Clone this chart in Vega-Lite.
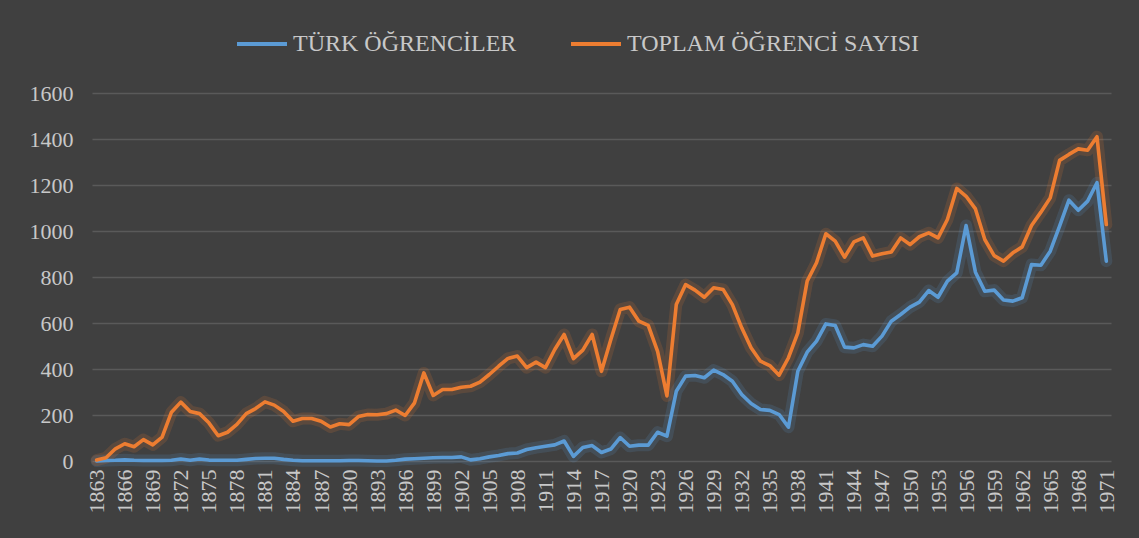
{
  "$schema": "https://vega.github.io/schema/vega-lite/v6.json",
  "autosize": {"type": "none"},
  "width": 1019,
  "height": 368,
  "padding": {"left": 92, "top": 93, "right": 28, "bottom": 77},
  "background": "#404040",
  "config": {
    "view": {"stroke": null},
    "font": "Liberation Serif",
    "axis": {"labelFont": "Liberation Serif", "labelColor": "#C8C8C8", "labelFontSize": 22, "ticks": false, "domain": false},
    "legend": {"labelFont": "Liberation Serif", "labelColor": "#C8C8C8", "labelFontSize": 24}
  },
  "data": {
    "values": [
      {"yil":1863,"turk":0,"toplam":4},{"yil":1864,"turk":2,"toplam":14},{"yil":1865,"turk":3,"toplam":53},{"yil":1866,"turk":5,"toplam":75},{"yil":1867,"turk":3,"toplam":62},{"yil":1868,"turk":2,"toplam":93},{"yil":1869,"turk":2,"toplam":70},{"yil":1870,"turk":2,"toplam":104},{"yil":1871,"turk":3,"toplam":212},{"yil":1872,"turk":9,"toplam":256},
      {"yil":1873,"turk":3,"toplam":215},{"yil":1874,"turk":9,"toplam":206},{"yil":1875,"turk":4,"toplam":166},{"yil":1876,"turk":3,"toplam":110},{"yil":1877,"turk":3,"toplam":125},{"yil":1878,"turk":3,"toplam":159},{"yil":1879,"turk":7,"toplam":206},{"yil":1880,"turk":11,"toplam":228},{"yil":1881,"turk":12,"toplam":257},{"yil":1882,"turk":12,"toplam":243},
      {"yil":1883,"turk":7,"toplam":215},{"yil":1884,"turk":3,"toplam":173},{"yil":1885,"turk":1,"toplam":185},{"yil":1886,"turk":1,"toplam":185},{"yil":1887,"turk":1,"toplam":173},{"yil":1888,"turk":1,"toplam":148},{"yil":1889,"turk":1,"toplam":162},{"yil":1890,"turk":2,"toplam":158},{"yil":1891,"turk":2,"toplam":193},{"yil":1892,"turk":1,"toplam":202},
      {"yil":1893,"turk":0,"toplam":201},{"yil":1894,"turk":0,"toplam":206},{"yil":1895,"turk":3,"toplam":221},{"yil":1896,"turk":8,"toplam":198},{"yil":1897,"turk":10,"toplam":253},{"yil":1898,"turk":12,"toplam":383},{"yil":1899,"turk":14,"toplam":285},{"yil":1900,"turk":15,"toplam":311},{"yil":1901,"turk":15,"toplam":311},{"yil":1902,"turk":18,"toplam":321},
      {"yil":1903,"turk":5,"toplam":325},{"yil":1904,"turk":10,"toplam":343},{"yil":1905,"turk":18,"toplam":376},{"yil":1906,"turk":24,"toplam":412},{"yil":1907,"turk":32,"toplam":446},{"yil":1908,"turk":35,"toplam":456},{"yil":1909,"turk":50,"toplam":406},{"yil":1910,"turk":58,"toplam":430},{"yil":1911,"turk":64,"toplam":406},{"yil":1912,"turk":70,"toplam":485},
      {"yil":1913,"turk":87,"toplam":550},{"yil":1914,"turk":20,"toplam":445},{"yil":1915,"turk":59,"toplam":482},{"yil":1916,"turk":67,"toplam":550},{"yil":1917,"turk":37,"toplam":390},{"yil":1918,"turk":52,"toplam":528},{"yil":1919,"turk":102,"toplam":659},{"yil":1920,"turk":64,"toplam":669},{"yil":1921,"turk":69,"toplam":608},{"yil":1922,"turk":69,"toplam":590},
      {"yil":1923,"turk":125,"toplam":477},{"yil":1924,"turk":108,"toplam":283},{"yil":1925,"turk":303,"toplam":680},{"yil":1926,"turk":369,"toplam":767},{"yil":1927,"turk":372,"toplam":743},{"yil":1928,"turk":362,"toplam":712},{"yil":1929,"turk":395,"toplam":753},{"yil":1930,"turk":376,"toplam":746},{"yil":1931,"turk":347,"toplam":680},{"yil":1932,"turk":289,"toplam":579},
      {"yil":1933,"turk":250,"toplam":492},{"yil":1934,"turk":224,"toplam":434},{"yil":1935,"turk":220,"toplam":415},{"yil":1936,"turk":202,"toplam":373},{"yil":1937,"turk":147,"toplam":449},{"yil":1938,"turk":390,"toplam":557},{"yil":1939,"turk":473,"toplam":782},{"yil":1940,"turk":521,"toplam":862},{"yil":1941,"turk":596,"toplam":988},{"yil":1942,"turk":589,"toplam":956},
      {"yil":1943,"turk":495,"toplam":886},{"yil":1944,"turk":492,"toplam":953},{"yil":1945,"turk":506,"toplam":970},{"yil":1946,"turk":499,"toplam":891},{"yil":1947,"turk":543,"toplam":901},{"yil":1948,"turk":608,"toplam":909},{"yil":1949,"turk":637,"toplam":970},{"yil":1950,"turk":669,"toplam":941},{"yil":1951,"turk":691,"toplam":975},{"yil":1952,"turk":741,"toplam":992},
      {"yil":1953,"turk":712,"toplam":970},{"yil":1954,"turk":782,"toplam":1050},{"yil":1955,"turk":818,"toplam":1185},{"yil":1956,"turk":1024,"toplam":1151},{"yil":1957,"turk":821,"toplam":1096},{"yil":1958,"turk":738,"toplam":963},{"yil":1959,"turk":743,"toplam":893},{"yil":1960,"turk":700,"toplam":869},{"yil":1961,"turk":695,"toplam":905},{"yil":1962,"turk":710,"toplam":931},
      {"yil":1963,"turk":854,"toplam":1024},{"yil":1964,"turk":851,"toplam":1082},{"yil":1965,"turk":912,"toplam":1144},{"yil":1966,"turk":1021,"toplam":1307},{"yil":1967,"turk":1134,"toplam":1333},{"yil":1968,"turk":1090,"toplam":1357},{"yil":1969,"turk":1130,"toplam":1351},{"yil":1970,"turk":1210,"toplam":1410},{"yil":1971,"turk":869,"toplam":1028}
    ]
  },
  "transform": [{"fold": ["turk", "toplam"], "as": ["seri", "ogrenci"]}],
  "encoding": {
    "x": {
      "field": "yil", "type": "ordinal", "title": null,
      "scale": {"type": "point", "padding": 0.5},
      "axis": {"labelAngle": -90, "labelPadding": 8, "grid": false,
        "values": [1863,1866,1869,1872,1875,1878,1881,1884,1887,1890,1893,1896,1899,1902,1905,1908,1911,1914,1917,1920,1923,1926,1929,1932,1935,1938,1941,1944,1947,1950,1953,1956,1959,1962,1965,1968,1971]}
    },
    "y": {
      "field": "ogrenci", "type": "quantitative", "title": null,
      "scale": {"domain": [0, 1600], "nice": false},
      "axis": {"values": [0,200,400,600,800,1000,1200,1400,1600], "format": "d", "grid": true, "gridColor": "#5A5A5A", "gridWidth": 1.3, "labelPadding": 19}
    },
    "color": {
      "field": "seri", "type": "nominal",
      "scale": {"domain": ["turk", "toplam"], "range": ["#5B9BD5", "#ED7D31"]},
      "legend": {
        "title": null, "orient": "none", "direction": "horizontal",
        "legendX": 143, "legendY": -76,
        "symbolType": "stroke", "symbolSize": 2500, "symbolStrokeWidth": 4, "symbolOpacity": 1,
        "columnPadding": 46, "labelOffset": 4, "labelLimit": 400,
        "labelExpr": "datum.value == 'turk' ? 'TÜRK ÖĞRENCİLER' : 'TOPLAM ÖĞRENCİ SAYISI'"
      }
    }
  },
  "layer": [
    {"mark": {"type": "line", "strokeWidth": 12, "opacity": 0.16, "strokeJoin": "round", "strokeCap": "round"}},
    {"mark": {"type": "line", "strokeWidth": 3.6, "strokeJoin": "round", "strokeCap": "round"}}
  ]
}
